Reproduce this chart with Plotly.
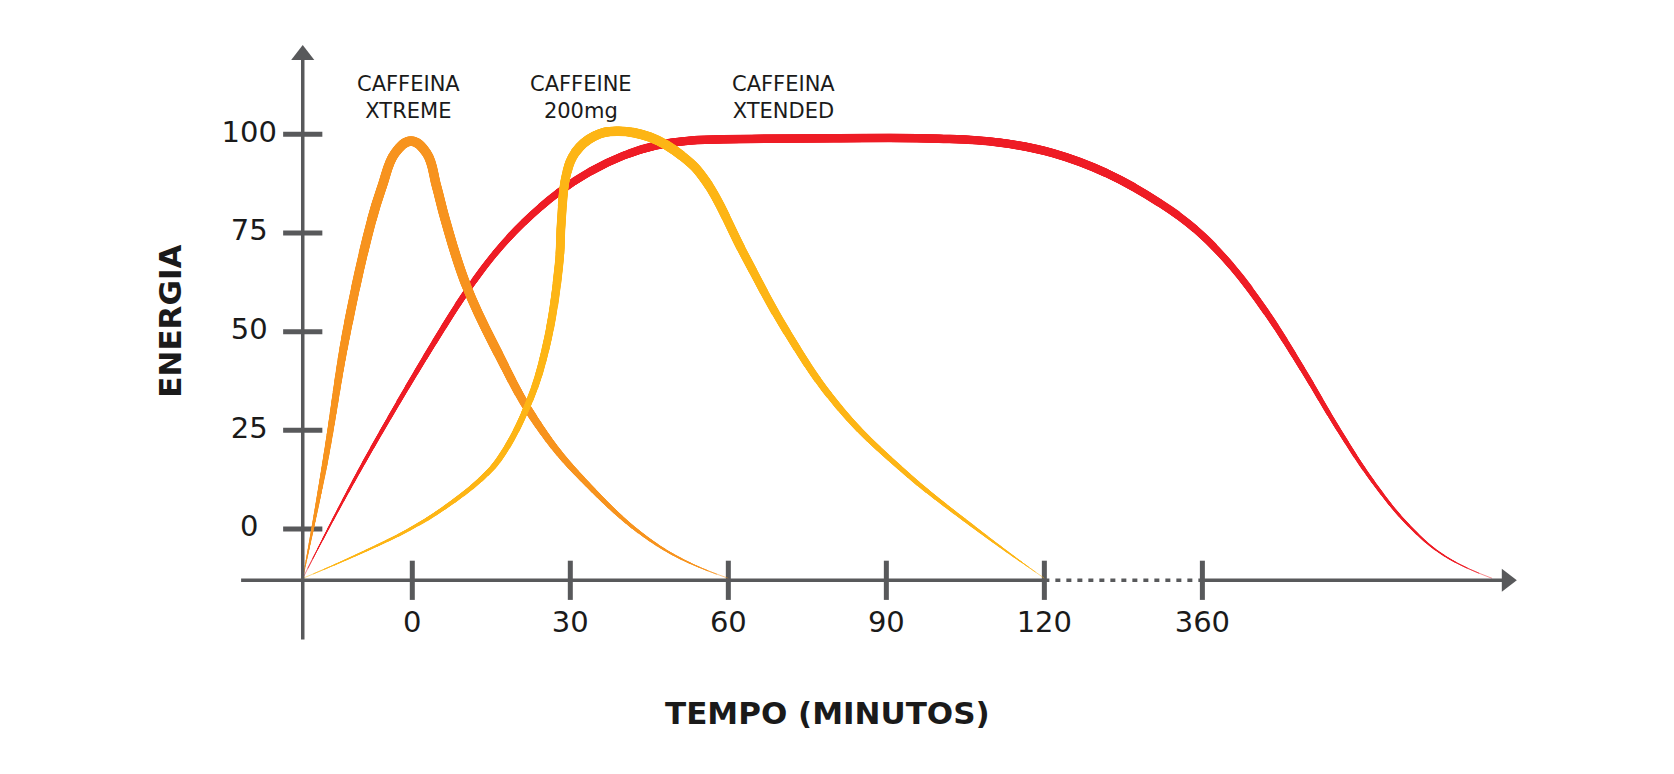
import math
import plotly.graph_objects as go

# ---------------- data ----------------
# x is in display units: 0,30,60,90,120 are minutes; the broken axis puts "360" at 150
X_TICK_POS = [0, 30, 60, 90, 120, 150]
X_TICK_LABELS = ["0", "30", "60", "90", "120", "360"]
Y_TICK_POS = [0, 25, 50, 75, 100]
Y_TICK_LABELS = ["0", "25", "50", "75", "100"]

SERIES_LABELS = ["CAFFEINA<br>XTREME", "CAFFEINE<br>200mg", "CAFFEINA<br>XTENDED"]

xtended_x = [-20.8, -9.3, 6.2, 10.96, 15.7, 21.1, 27.7, 33.7, 40.1, 46.4, 52.7, 62.2, 80.0,
             100.0, 111.5, 121.7, 131.9, 142.0, 148.8, 155.6, 162.3, 169.1, 175.9, 182.6,
             189.4, 196.2, 205.0]
xtended_y = [-12.5, 16.6, 51.7, 61.4, 69.8, 77.6, 85.2, 90.5, 94.6, 97.2, 98.4, 98.8, 99.0,
             98.9, 97.9, 95.2, 90.1, 82.5, 75.8, 66.5, 54.6, 40.3, 25.1, 11.6,
             0.6, -7.0, -12.5]

c200_x = [-20.8, -10.6, -0.76, 6.0, 12.85, 16.5, 21.8, 25.4, 27.85, 28.3, 29.2, 31.0, 34.5,
          38.8, 45.1, 51.5, 55.8, 63.2, 71.0, 80.8, 93.0, 107.0, 120.0]
c200_y = [-12.5, -6.6, -0.25, 5.3, 12.4, 17.7, 31.0, 46.2, 67.0, 78.0, 89.5, 95.5, 99.5,
          100.8, 99.3, 94.2, 88.0, 69.1, 50.2, 31.2, 15.0, 0.1, -12.5]

xtreme_x = [-20.8, -16.6, -12.4, -7.7, -5.75, -3.3, -0.25, 2.73, 4.63, 6.27, 10.33, 16.3,
            23.3, 32.47, 47.0, 60.0]
xtreme_y = [-12.5, 16.6, 50.4, 78.3, 86.7, 95.2, 98.3, 95.2, 86.7, 78.3, 61.4, 44.5,
            27.6, 12.4, -4.5, -12.5]

# ---------------- styles ----------------
# stroke width (px) at each point of the curves above: the strokes taper at both ends
xtended_w = [0.5, 3.5, 5.8, 6.2, 6.5, 7, 7.5, 8, 8.2, 8.5, 8.5, 8.5, 8.5,
             8.5, 8.5, 8.5, 8.5, 8, 7.5, 7, 6.5, 5.5, 4.5, 3.5,
             2.5, 1.5, 0.5]
c200_w = [0.5, 1.8, 3, 4, 5, 5.8, 6.6, 7.8, 8.7, 8.9, 9.2, 9.5, 9.5,
          9.5, 9.5, 9.5, 9.3, 8.7, 7.8, 6.6, 5, 3, 0.5]
xtreme_w = [0.5, 5.6, 8.7, 9.5, 9.5, 9.5, 9.5, 9.5, 9.5, 9.5, 9.5, 9.3,
            8, 5.8, 2.5, 0.5]

RED = "#EE1C25"
YELLOW = "#FDB515"
ORANGE = "#F7931E"
AXIS = "#58595B"
TEXT = "#1A1A1A"
FONT = "DejaVu Sans"
SMOOTH = 1.2

W, H = 1674, 774
M_L, M_R, M_T, M_B = 225, 152, 30, 132
X_RANGE = [-34.04, 212.2]
Y_RANGE = [-30.66, 124.4]
KX = (W - M_L - M_R) / (X_RANGE[1] - X_RANGE[0])   # px per x unit
KY = (H - M_T - M_B) / (Y_RANGE[1] - Y_RANGE[0])   # px per y unit

AXIS_Y = -13.0      # height of the x axis line
AXIS_X = -20.8      # position of the y axis line

fig = go.Figure()


def add_tapered(xs, ys, ws, color, step=0.25):
    """Whole spline drawn several times; each thicker copy shows only the stretch of the
    path where the stroke is at least that wide (via a dash pattern), so the line tapers."""
    s = [0.0]
    for i in range(1, len(xs)):
        s.append(s[-1] + math.hypot((xs[i] - xs[i - 1]) * KX, (ys[i] - ys[i - 1]) * KY))
    total = s[-1]
    lo, hi = min(ws), max(ws)
    n = int(round((hi - lo) / step))
    for k in range(n + 1):
        lv = lo + k * step
        start = end = None
        for i in range(len(ws)):
            if ws[i] >= lv - 1e-9:
                if i == 0:
                    start = 0.0
                else:
                    t = (lv - ws[i - 1]) / (ws[i] - ws[i - 1])
                    start = s[i - 1] + t * (s[i] - s[i - 1])
                break
        for i in range(len(ws) - 1, -1, -1):
            if ws[i] >= lv - 1e-9:
                if i == len(ws) - 1:
                    end = total
                else:
                    t = (lv - ws[i + 1]) / (ws[i] - ws[i + 1])
                    end = s[i + 1] - t * (s[i + 1] - s[i])
                break
        if start is None or end - start < 0.5:
            continue
        if k == 0:
            dash = "solid"
        else:
            dash = "0px,%.1fpx,%.1fpx,%dpx" % (start, end - start, int(total * 2 + 1000))
        fig.add_trace(go.Scatter(
            x=xs, y=ys, mode="lines",
            line=dict(color=color, width=lv, shape="spline", smoothing=SMOOTH,
                      dash=dash, simplify=False),
            hoverinfo="skip", showlegend=False))


# ---------------- axes (drawn by hand, broken x axis) ----------------
shape_line = dict(color=AXIS, width=3.5)
fig.add_shape(type="line", xref="x", yref="y", x0=-32.5, x1=120, y0=AXIS_Y, y1=AXIS_Y, line=shape_line)
fig.add_shape(type="line", xref="x", yref="y", x0=120, x1=150, y0=AXIS_Y, y1=AXIS_Y,
              line=dict(color=AXIS, width=3.5, dash="5px,6px"))
fig.add_shape(type="line", xref="x", yref="y", x0=150, x1=207, y0=AXIS_Y, y1=AXIS_Y, line=shape_line)
fig.add_shape(type="line", xref="x", yref="y", x0=AXIS_X, x1=AXIS_X, y0=-28, y1=119, line=shape_line)

# arrow heads
fig.add_trace(go.Scatter(x=[207.8], y=[AXIS_Y], mode="markers",
                         marker=dict(symbol="triangle-right", size=20, color=AXIS),
                         hoverinfo="skip", showlegend=False, cliponaxis=False))
fig.add_trace(go.Scatter(x=[AXIS_X], y=[120.1], mode="markers",
                         marker=dict(symbol="triangle-up", size=20, color=AXIS),
                         hoverinfo="skip", showlegend=False, cliponaxis=False))

# tick marks crossing the axes
fig.add_trace(go.Scatter(x=X_TICK_POS, y=[AXIS_Y] * len(X_TICK_POS), mode="markers",
                         marker=dict(symbol="line-ns", size=28, line=dict(color=AXIS, width=5)),
                         hoverinfo="skip", showlegend=False, cliponaxis=False))
fig.add_trace(go.Scatter(x=[AXIS_X] * len(Y_TICK_POS), y=Y_TICK_POS, mode="markers",
                         marker=dict(symbol="line-ew", size=28, line=dict(color=AXIS, width=5)),
                         hoverinfo="skip", showlegend=False, cliponaxis=False))

# tick labels
fig.add_trace(go.Scatter(x=X_TICK_POS, y=[-24.2] * len(X_TICK_POS), mode="text",
                         text=X_TICK_LABELS, textposition="middle center",
                         textfont=dict(family=FONT, size=29, color=TEXT),
                         hoverinfo="skip", showlegend=False, cliponaxis=False))
fig.add_trace(go.Scatter(x=[-30.95] * len(Y_TICK_POS), y=Y_TICK_POS, mode="text",
                         text=Y_TICK_LABELS, textposition="middle center",
                         textfont=dict(family=FONT, size=29, color=TEXT),
                         hoverinfo="skip", showlegend=False, cliponaxis=False))

# ---------------- curves ----------------
add_tapered(xtended_x, xtended_y, xtended_w, RED)
add_tapered(xtreme_x, xtreme_y, xtreme_w, ORANGE)
add_tapered(c200_x, c200_y, c200_w, YELLOW)

# ---------------- labels ----------------
for txt, xpos in zip(SERIES_LABELS, [-0.66, 32.0, 70.4]):
    fig.add_annotation(x=xpos, y=109.2, xref="x", yref="y", text=txt, showarrow=False,
                       xanchor="center", yanchor="middle",
                       font=dict(family=FONT, size=21, color=TEXT), align="center")

fig.add_annotation(x=-0.0486, y=0.538, xref="paper", yref="paper", text="<b>ENERGIA</b>",
                   textangle=-90, showarrow=False, xanchor="center", yanchor="middle",
                   font=dict(family=FONT, size=31, color=TEXT))
fig.add_annotation(x=0.458, y=-0.103, xref="paper", yref="paper", text="<b>TEMPO (MINUTOS)</b>",
                   showarrow=False, xanchor="center", yanchor="middle",
                   font=dict(family=FONT, size=31, color=TEXT))

fig.update_layout(
    width=W, height=H,
    margin=dict(l=M_L, r=M_R, t=M_T, b=M_B),
    paper_bgcolor="white", plot_bgcolor="white",
    xaxis=dict(range=X_RANGE, visible=False, fixedrange=True),
    yaxis=dict(range=Y_RANGE, visible=False, fixedrange=True),
    showlegend=False,
)

fig.write_html("out.html")
